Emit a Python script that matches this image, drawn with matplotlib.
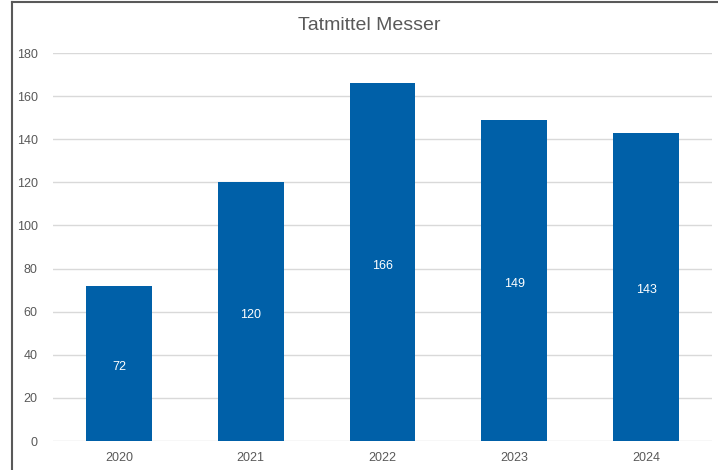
import matplotlib
matplotlib.use("Agg")
import matplotlib.pyplot as plt
from matplotlib.lines import Line2D

years = ["2020", "2021", "2022", "2023", "2024"]
values = [72, 120, 166, 149, 143]
title = "Tatmittel Messer"

plt.rcParams['font.family'] = ['Liberation Sans', 'DejaVu Sans']

fig = plt.figure(figsize=(7.18, 4.70), dpi=100)
ax = fig.add_axes([53/718, 1-441/470, (712-53)/718, (441-53)/470])

x = range(len(years))
bars = ax.bar(x, values, width=0.5, color="#0060A8", zorder=3)
for xi, v in zip(x, values):
    ax.annotate(str(v), (xi, v/2), xytext=(0, -2.5), textcoords="offset points",
                ha="center", va="center", color="white", fontsize=9, zorder=4)

ax.set_xlim(-0.5, len(years)-0.5)
ax.set_ylim(0, 180)
ax.set_yticks(range(0, 181, 20))
ax.set_xticks(list(x))
ax.set_xticklabels(years)
ax.grid(axis="y", color="#D9D9D9", linewidth=1, zorder=0)
for s in ax.spines.values():
    s.set_visible(False)
ax.tick_params(axis="both", length=0, colors="#595959", labelsize=9)
ax.tick_params(axis="y", pad=11)
ax.tick_params(axis="x", pad=8)

fig.text(369/718, 1-25/470, title, ha="center", va="center", fontsize=14, color="#595959")

fig.add_artist(Line2D([12/718, 12/718], [0, 1-2/470], transform=fig.transFigure, color="#595959", linewidth=1.5))
fig.add_artist(Line2D([12/718, 1], [1-2/470, 1-2/470], transform=fig.transFigure, color="#595959", linewidth=1.5))

fig.savefig("out.png", dpi=100)
